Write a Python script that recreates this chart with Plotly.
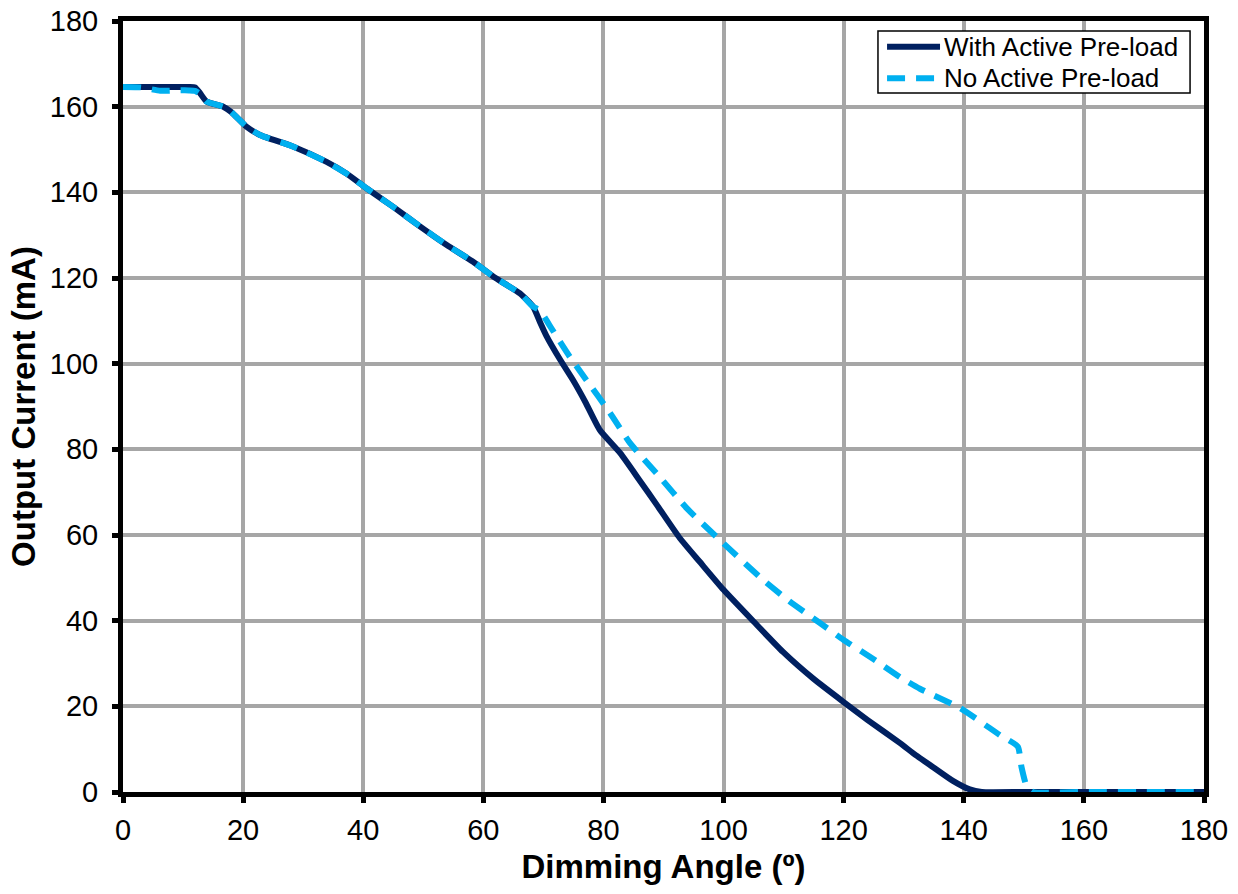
import plotly.graph_objects as go

# Output current vs. dimming angle, with and without the active pre-load circuit
angle_with = [0, 4, 8, 11, 12, 12.8, 13.9, 16.7, 18, 20.6, 22.8, 28.3, 33.9, 37.2, 40.6, 45,
              49.5, 53.9, 58.3, 61.7, 66.1, 68.3, 69.5, 70.5, 72.8, 75, 77, 79.4, 82.8, 86,
              89, 92.7, 96, 100, 105, 109.9, 115, 120, 124, 129.4, 132, 134.9, 138.2, 141,
              143, 150, 160, 170, 180]
current_with = [164.6, 164.6, 164.6, 164.6, 164.5, 163.2, 161.2, 160, 158.8, 155.3, 153.4,
                150.7, 147.1, 144.4, 140.9, 136.6, 132, 127.7, 123.8, 120.3, 116.4, 113.3,
                109.5, 106.5, 100.9, 96, 91, 84.5, 79.1, 72.8, 66.8, 59.3, 53.8, 47.2, 39.8,
                32.7, 26.4, 21, 16.8, 11.4, 8.6, 5.8, 2.6, 0.6, 0, 0, 0, 0, 0]

angle_no = [0, 3, 6.2, 9, 11, 12, 12.8, 13.9, 16.7, 18, 20.6, 22.8, 28.3, 33.9, 37.2, 40.6,
            45, 49.5, 53.9, 58.3, 61.7, 66.1, 68.3, 69.4, 71, 74.4, 77, 81.1, 84.4, 89.4,
            93.9, 99.4, 106.6, 111, 116, 120, 125, 129.4, 132.7, 139.4, 146, 149, 149.6,
            150.5, 151.5, 160, 170, 180]
current_no = [164.6, 164.5, 163.7, 163.8, 163.8, 163.7, 163, 161.2, 160, 158.8, 155.3, 153.4,
              150.7, 147.1, 144.4, 140.9, 136.6, 132, 127.7, 123.8, 120.3, 116.4, 113.3,
              112.5, 109, 101.6, 96.5, 88.5, 81.5, 73.5, 66.2, 58.8, 49.5, 44.5, 39.5,
              35.5, 31, 26.8, 24.1, 19.6, 13.3, 10.6, 5.9, 1.2, 0, 0, 0, 0]

axis_ticks = [0, 20, 40, 60, 80, 100, 120, 140, 160, 180]

series_names = ["With Active Pre-load", "No Active Pre-load"]
series_colors = ["#002060", "#00B0F0"]
series_dashes = ["solid", "18px,11px"]

FONT = "Arial, Liberation Sans, sans-serif"
LINE_W = 6

fig = go.Figure()
for xs, ys, name, color, dash in zip([angle_with, angle_no], [current_with, current_no],
                                     series_names, series_colors, series_dashes):
    fig.add_trace(go.Scatter(
        x=xs, y=ys, mode="lines", name=name, showlegend=False,
        line=dict(color=color, width=LINE_W, dash=dash, shape="spline", smoothing=0.5),
    ))

axis_common = dict(
    range=[0, 180], tickvals=axis_ticks, showgrid=True, gridcolor="#A6A6A6", gridwidth=4,
    zeroline=False, showline=True, linecolor="black", linewidth=5, mirror=True,
    ticks="outside", ticklen=6, tickwidth=5, tickcolor="black", automargin=False,
    tickfont=dict(family=FONT, size=29, color="black"),
)

fig.update_xaxes(
    **axis_common,
    ticklabelstandoff=2,
    title=dict(text="<b>Dimming Angle (º)</b>", font=dict(family=FONT, size=33, color="black"),
               standoff=12),
)
fig.update_yaxes(
    **axis_common,
    ticklabelstandoff=8,
    title=dict(text="<b>Output Current (mA)</b>", font=dict(family=FONT, size=33, color="black"),
               standoff=6),
)

# Legend box drawn in paper coordinates, top-right inside the plot
box_x0, box_x1, box_y0, box_y1 = 0.6984, 0.9871, 0.9066, 0.9870
sample_x0, sample_x1, text_x = 0.7068, 0.7558, 0.7575
row_y = [0.9667, 0.9257]

fig.add_shape(type="rect", xref="paper", yref="paper",
              x0=box_x0, x1=box_x1, y0=box_y0, y1=box_y1,
              line=dict(color="black", width=1.5), fillcolor="white", layer="above")
for name, color, dash, yy in zip(series_names, series_colors, series_dashes, row_y):
    fig.add_shape(type="line", xref="paper", yref="paper",
                  x0=sample_x0, x1=sample_x1, y0=yy, y1=yy,
                  line=dict(color=color, width=LINE_W, dash=dash), layer="above")
    fig.add_annotation(xref="paper", yref="paper", x=text_x, y=yy, text=name,
                       showarrow=False, xanchor="left", yanchor="middle",
                       font=dict(family=FONT, size=26, color="black"))

fig.update_layout(
    width=1238, height=894,
    margin=dict(l=123, r=34, t=21, b=102),
    paper_bgcolor="white", plot_bgcolor="white",
    font=dict(family=FONT, color="black"),
    showlegend=False,
)

fig.write_html("out.html")
